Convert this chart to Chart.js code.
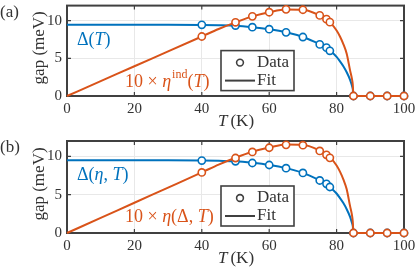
<!DOCTYPE html>
<html>
<head>
<meta charset="utf-8">
<script src="https://cdn.jsdelivr.net/npm/chart.js@4.4.0/dist/chart.umd.min.js"></script>
<style>
  html, body { margin: 0; padding: 0; background: #fff; }
  #wrap { position: relative; width: 415px; height: 267px; }
  .panel { position: absolute; left: 0; width: 415px; }
</style>
</head>
<body>
<div id="wrap">
  <div class="panel" style="top:0;height:133px"><canvas id="chartA" width="415" height="133"></canvas></div>
  <div class="panel" style="top:133px;height:134px"><canvas id="chartB" width="415" height="134"></canvas></div>
</div>
<script>
// axis ticks
const xTicks = [0, 20, 40, 60, 80, 100];
const yTicks = [0, 5, 10];

// measured points (T in K, gap in meV)
const dataT   = [40, 50, 55, 60, 65, 70, 75, 77, 78, 85, 90, 95, 100];
const gapData = [9.45, 9.35, 9.13, 8.87, 8.45, 7.83, 6.85, 6.42, 6.0, 0, 0, 0, 0];
const etaData = [7.9, 9.78, 10.57, 11.12, 11.5, 11.45, 10.7, 10.2, 9.8, 0, 0, 0, 0];

// fit curves
const fitT    = [0, 10, 20, 30, 40, 45, 50, 55, 60, 65, 70, 75, 77, 78, 80, 81, 82, 83, 84, 84.5, 84.8, 85, 90, 100];
const gapFitA = [9.45, 9.45, 9.45, 9.45, 9.43, 9.4, 9.33, 9.13, 8.85, 8.45, 7.83, 6.88, 6.42, 6.05, 5.2, 4.6, 3.95, 3.15, 2.15, 1.45, 0.9, 0, 0, 0];
const etaFitA = [0, 1.97, 3.95, 5.92, 7.9, 8.9, 9.78, 10.57, 11.12, 11.48, 11.45, 10.7, 10.2, 9.8, 8.7, 7.9, 6.9, 5.6, 3.4, 2.4, 1.5, 0, 0, 0];
const gapFitB = [9.5, 9.5, 9.5, 9.49, 9.45, 9.41, 9.35, 9.15, 8.87, 8.46, 7.84, 6.86, 6.4, 6.0, 5.15, 4.55, 3.9, 3.1, 2.1, 1.4, 0.9, 0, 0, 0];
const etaFitB = [0, 1.97, 3.95, 5.92, 7.9, 8.92, 9.82, 10.6, 11.15, 11.55, 11.5, 10.75, 10.26, 9.9, 8.8, 8.0, 7.0, 5.7, 3.5, 2.5, 1.5, 0, 0, 0];

const BLUE = '#0072BD';
const ORANGE = '#D95319';
const AXIS = '#404040';
const TEXT = '#333333';
const SERIF = '"Liberation Serif", "Times New Roman", serif';

function pts(xs, ys) {
    return xs.map((x, i) => ({ x: x, y: ys[i] }));
}

function fitSet(ys, color, order) {
    return {
        data: pts(fitT, ys), showLine: true, borderColor: color, borderWidth: 2,
        pointRadius: 0, cubicInterpolationMode: 'monotone', clip: 6, order: order
    };
}

function dataSet(ys, color, order) {
    return {
        data: pts(dataT, ys), showLine: false, borderColor: color,
        pointBorderColor: color, pointBackgroundColor: '#ffffff',
        pointRadius: 3.6, pointBorderWidth: 1.6, clip: 6, order: order
    };
}

function drawRich(ctx, x, y, parts) {
    let cx = x;
    ctx.textBaseline = 'alphabetic';
    ctx.textAlign = 'left';
    for (const p of parts) {
        ctx.font = p.font;
        ctx.fillText(p.t, cx, y + (p.dy || 0));
        cx += ctx.measureText(p.t).width + (p.gap || 0);
    }
}

// frame with inward ticks, drawn under the curves
const framePlugin = {
    id: 'frame',
    beforeDatasetsDraw(chart) {
        const ctx = chart.ctx, ca = chart.chartArea;
        const xs = chart.scales.x, ys = chart.scales.y;
        ctx.save();
        ctx.strokeStyle = AXIS;
        ctx.lineWidth = 1.2;
        ctx.beginPath();
        xTicks.forEach(v => {
            const px = xs.getPixelForValue(v);
            ctx.moveTo(px, ca.bottom); ctx.lineTo(px, ca.bottom - 4);
            ctx.moveTo(px, ca.top); ctx.lineTo(px, ca.top + 4);
        });
        yTicks.forEach(v => {
            const py = ys.getPixelForValue(v);
            ctx.moveTo(ca.left, py); ctx.lineTo(ca.left + 4, py);
            ctx.moveTo(ca.right, py); ctx.lineTo(ca.right - 4, py);
        });
        ctx.stroke();
        ctx.lineWidth = 2;
        ctx.strokeRect(ca.left, ca.top, ca.right - ca.left, ca.bottom - ca.top);
        ctx.restore();
    }
};

// labels, annotations and the legend box
function textPlugin(panel, gapLabel, etaLabel) {
    return {
        id: 'texts',
        afterDraw(chart) {
            const ctx = chart.ctx, ca = chart.chartArea;
            ctx.save();
            ctx.fillStyle = TEXT;
            // panel tag
            ctx.font = '17px ' + SERIF;
            ctx.textBaseline = 'middle';
            ctx.textAlign = 'left';
            ctx.fillText(panel, 0, ca.top + 7);
            // y title
            ctx.save();
            ctx.translate(ca.left - 27, (ca.top + ca.bottom) / 2 - 3);
            ctx.rotate(-Math.PI / 2);
            ctx.textAlign = 'center';
            ctx.font = '17px ' + SERIF;
            ctx.fillText('gap (meV)', 0, 0);
            ctx.restore();
            // x title
            drawRich(ctx, 218, ca.bottom + 30, [
                { t: 'T', font: 'italic 17px ' + SERIF, gap: 3 },
                { t: '(K)', font: '17px ' + SERIF }
            ]);
            // curve labels
            ctx.fillStyle = BLUE;
            drawRich(ctx, 77, ca.top + 39, gapLabel);
            ctx.fillStyle = ORANGE;
            drawRich(ctx, 125, ca.top + 81, etaLabel);
            // legend
            const lx = 221, ly = ca.top + 45, lw = 73, lh = 40;
            ctx.fillStyle = '#ffffff';
            ctx.fillRect(lx, ly, lw, lh);
            ctx.strokeStyle = AXIS;
            ctx.lineWidth = 1.6;
            ctx.strokeRect(lx, ly, lw, lh);
            ctx.beginPath();
            ctx.arc(240, ly + 12, 3.4, 0, Math.PI * 2);
            ctx.stroke();
            ctx.lineWidth = 2;
            ctx.beginPath();
            ctx.moveTo(225, ly + 30); ctx.lineTo(255, ly + 30);
            ctx.stroke();
            ctx.fillStyle = TEXT;
            ctx.font = '17px ' + SERIF;
            ctx.textBaseline = 'middle';
            ctx.textAlign = 'left';
            ctx.fillText('Data', 257, ly + 12);
            ctx.fillText('Fit', 257, ly + 30);
            ctx.restore();
        }
    };
}

function makeChart(id, gapFit, etaFit, topPad, xHeight, panel, gapLabel, etaLabel) {
    return new Chart(document.getElementById(id), {
        type: 'scatter',
        data: {
            datasets: [
                fitSet(gapFit, BLUE, 4),
                dataSet(gapData, BLUE, 3),
                fitSet(etaFit, ORANGE, 2),
                dataSet(etaData, ORANGE, 1)
            ]
        },
        options: {
            responsive: false,
            animation: false,
            layout: { padding: { left: 0, right: 11, top: topPad, bottom: 0 } },
            plugins: { legend: { display: false }, tooltip: { enabled: false } },
            scales: {
                x: {
                    type: 'linear', min: 0, max: 100,
                    afterBuildTicks: s => { s.ticks = xTicks.map(v => ({ value: v })); },
                    afterFit: s => { s.height = xHeight; s.paddingLeft = 0; s.paddingRight = 0; },
                    grid: { color: '#e8e8e8', drawTicks: false },
                    border: { display: false },
                    ticks: { color: TEXT, font: { family: SERIF, size: 15 }, padding: 4, maxRotation: 0 }
                },
                y: {
                    type: 'linear', min: 0, max: 12,
                    afterBuildTicks: s => { s.ticks = yTicks.map(v => ({ value: v })); },
                    afterFit: s => { s.width = 67; s.paddingTop = 0; s.paddingBottom = 0; },
                    grid: { color: '#e8e8e8', drawTicks: false },
                    border: { display: false },
                    ticks: { color: TEXT, font: { family: SERIF, size: 15 }, padding: 5 }
                }
            }
        },
        plugins: [framePlugin, textPlugin(panel, gapLabel, etaLabel)]
    });
}

const F = '18px ' + SERIF;
const FI = 'italic 18px ' + SERIF;
const FS = '12px ' + SERIF;

makeChart('chartA', gapFitA, etaFitA, 4, 37, '(a)',
    [{ t: 'Δ(', font: F }, { t: 'T', font: FI }, { t: ')', font: F }],
    [{ t: '10 × ', font: F }, { t: 'η', font: FI, gap: 1 }, { t: 'ind', font: FS, dy: -9 },
     { t: '(', font: F }, { t: 'T', font: FI }, { t: ')', font: F }]);

makeChart('chartB', gapFitB, etaFitB, 8, 34, '(b)',
    [{ t: 'Δ(', font: F }, { t: 'η', font: FI }, { t: ', ', font: F }, { t: 'T', font: FI }, { t: ')', font: F }],
    [{ t: '10 × ', font: F }, { t: 'η', font: FI }, { t: '(Δ, ', font: F }, { t: 'T', font: FI }, { t: ')', font: F }]);
</script>
</body>
</html>
